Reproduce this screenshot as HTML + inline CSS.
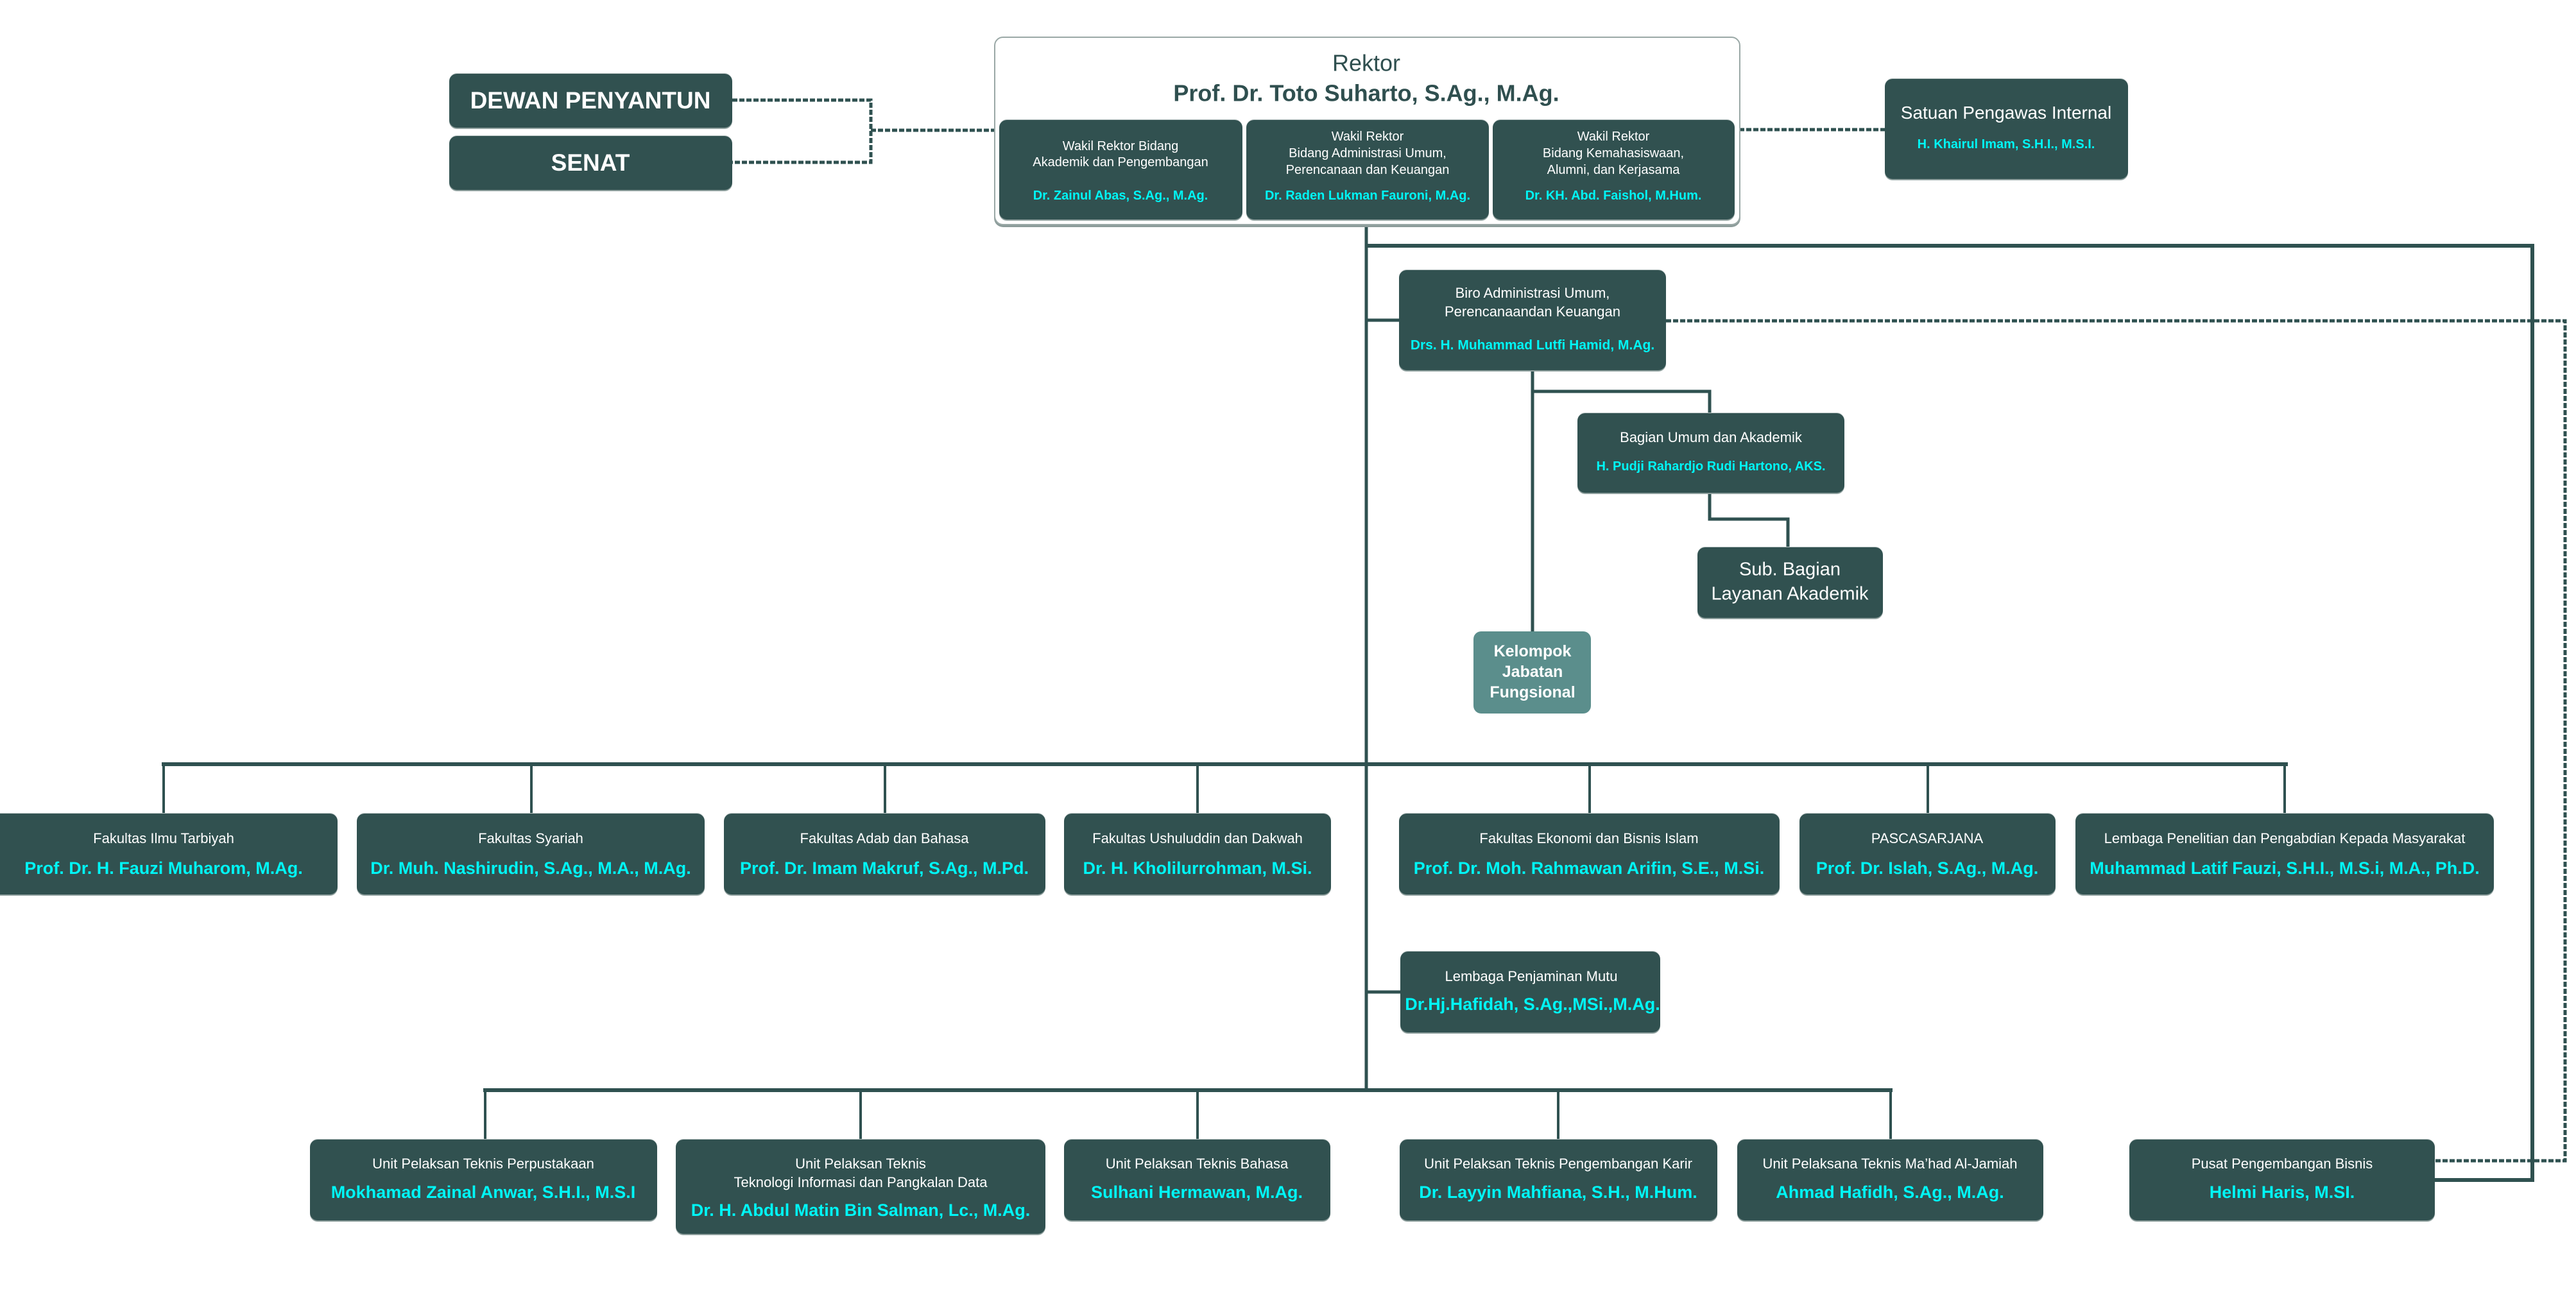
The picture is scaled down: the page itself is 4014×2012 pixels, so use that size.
<!DOCTYPE html>
<html>
<head>
<meta charset="utf-8">
<style>
  html,body{margin:0;padding:0;background:#fff;}
  body{width:4014px;height:2012px;position:relative;overflow:hidden;font-family:"Liberation Sans",Arial,sans-serif;}
  .b{position:absolute;background:#315150;border-radius:12px;box-shadow:0 -1px 0 #b9c4c3,0 2px 0 #8fa09e;}
  .t{position:absolute;white-space:nowrap;transform:translate(-50%,-50%);line-height:1.2;color:#fff;font-size:22px;}
  .n{color:#00f6f6;font-weight:bold;font-size:27px;}
  .s{font-size:20px;}
  .ns{color:#00f6f6;font-weight:bold;font-size:20px;}
  svg{position:absolute;left:0;top:0;}
</style>
</head>
<body>

<!-- Connectors -->
<svg width="4014" height="2012" viewBox="0 0 4014 2012">
  <g stroke="#2f5150" fill="none" stroke-linejoin="miter">
    <!-- main vertical -->
    <line x1="2129" y1="348" x2="2129" y2="1702" stroke-width="5"/>
    <!-- top thick to right -->
    <polyline points="2129,383 3946,383 3946,1839 3794,1839" stroke-width="6"/>
    <!-- biro -->
    <line x1="2129" y1="499" x2="2182" y2="499" stroke-width="5"/>
    <line x1="2388" y1="575" x2="2388" y2="986" stroke-width="5"/>
    <polyline points="2388,610 2664,610 2664,646" stroke-width="5"/>
    <polyline points="2664,766 2664,809 2786,809 2786,855" stroke-width="5"/>
    <!-- faculties -->
    <line x1="252" y1="1191" x2="3565" y2="1191" stroke-width="6"/>
    <g stroke-width="4">
      <line x1="255" y1="1191" x2="255" y2="1270"/>
      <line x1="828" y1="1191" x2="828" y2="1270"/>
      <line x1="1379" y1="1191" x2="1379" y2="1270"/>
      <line x1="1866" y1="1191" x2="1866" y2="1270"/>
      <line x1="2477" y1="1191" x2="2477" y2="1270"/>
      <line x1="3004" y1="1191" x2="3004" y2="1270"/>
      <line x1="3560" y1="1191" x2="3560" y2="1270"/>
    </g>
    <!-- LPM -->
    <line x1="2129" y1="1546" x2="2184" y2="1546" stroke-width="5"/>
    <!-- bottom -->
    <line x1="753" y1="1699" x2="2949" y2="1699" stroke-width="6"/>
    <g stroke-width="4">
      <line x1="756" y1="1699" x2="756" y2="1778"/>
      <line x1="1341" y1="1699" x2="1341" y2="1778"/>
      <line x1="1866" y1="1699" x2="1866" y2="1778"/>
      <line x1="2428" y1="1699" x2="2428" y2="1778"/>
      <line x1="2946" y1="1699" x2="2946" y2="1778"/>
    </g>
    <!-- dashed -->
    <g stroke-width="5" stroke-dasharray="8 3">
      <polyline points="1141,156 1357,156 1357,253 1141,253"/>
      <line x1="1357" y1="203" x2="1549" y2="203"/>
      <line x1="2710" y1="202" x2="2937" y2="202"/>
      <polyline points="2596,500 3997,500 3997,1809 3794,1809"/>
    </g>
  </g>
</svg>

<!-- Rektor outer box -->
<div style="position:absolute;left:1549px;top:57px;width:1159px;height:290px;border:2px solid #9aa8a6;border-radius:14px;background:#fff;box-shadow:0 3px 0 #8c9c9a;"></div>
<div class="t" style="left:2129px;top:98px;color:#2f4f4f;font-size:36px;">Rektor</div>
<div class="t" style="left:2129px;top:145px;color:#2f4f4f;font-size:36px;font-weight:bold;">Prof. Dr. Toto Suharto, S.Ag., M.Ag.</div>

<div class="b" style="left:1557px;top:187px;width:379px;height:155px;"></div>
<div class="b" style="left:1942px;top:187px;width:378px;height:155px;"></div>
<div class="b" style="left:2326px;top:187px;width:377px;height:155px;"></div>

<div class="t s" style="left:1746px;top:228px;">Wakil Rektor Bidang</div>
<div class="t s" style="left:1746px;top:253px;">Akademik dan Pengembangan</div>
<div class="t ns" style="left:1746px;top:305px;">Dr. Zainul Abas, S.Ag., M.Ag.</div>

<div class="t s" style="left:2131px;top:213px;">Wakil Rektor</div>
<div class="t s" style="left:2131px;top:239px;">Bidang Administrasi Umum,</div>
<div class="t s" style="left:2131px;top:265px;">Perencanaan dan Keuangan</div>
<div class="t ns" style="left:2131px;top:305px;">Dr. Raden Lukman Fauroni, M.Ag.</div>

<div class="t s" style="left:2514px;top:213px;">Wakil Rektor</div>
<div class="t s" style="left:2514px;top:239px;">Bidang Kemahasiswaan,</div>
<div class="t s" style="left:2514px;top:265px;">Alumni, dan Kerjasama</div>
<div class="t ns" style="left:2514px;top:305px;">Dr. KH. Abd. Faishol, M.Hum.</div>

<!-- Dewan / Senat -->
<div class="b" style="left:700px;top:115px;width:441px;height:84px;"></div>
<div class="t" style="left:920px;top:157px;font-size:37px;font-weight:bold;">DEWAN PENYANTUN</div>
<div class="b" style="left:700px;top:212px;width:441px;height:84px;"></div>
<div class="t" style="left:920px;top:254px;font-size:37px;font-weight:bold;">SENAT</div>

<!-- SPI -->
<div class="b" style="left:2937px;top:123px;width:379px;height:156px;"></div>
<div class="t" style="left:3126px;top:176px;font-size:28px;">Satuan Pengawas Internal</div>
<div class="t ns" style="left:3126px;top:225px;">H. Khairul Imam, S.H.I., M.S.I.</div>

<!-- Biro -->
<div class="b" style="left:2180px;top:421px;width:416px;height:156px;"></div>
<div class="t" style="left:2388px;top:457px;">Biro Administrasi Umum,</div>
<div class="t" style="left:2388px;top:486px;">Perencanaandan Keuangan</div>
<div class="t ns" style="left:2388px;top:538px;font-size:21px;">Drs. H. Muhammad Lutfi Hamid, M.Ag.</div>

<!-- Bagian -->
<div class="b" style="left:2458px;top:644px;width:416px;height:124px;"></div>
<div class="t" style="left:2666px;top:682px;">Bagian Umum dan Akademik</div>
<div class="t ns" style="left:2666px;top:727px;">H. Pudji Rahardjo Rudi Hartono, AKS.</div>

<!-- Sub Bagian -->
<div class="b" style="left:2645px;top:853px;width:289px;height:110px;"></div>
<div class="t" style="left:2789px;top:888px;font-size:29px;">Sub. Bagian</div>
<div class="t" style="left:2789px;top:926px;font-size:29px;">Layanan Akademik</div>

<!-- Kelompok -->
<div class="b" style="left:2296px;top:984px;width:183px;height:128px;background:#5b8e8c;box-shadow:none;"></div>
<div class="t" style="left:2388px;top:1015px;font-size:25px;font-weight:bold;">Kelompok</div>
<div class="t" style="left:2388px;top:1047px;font-size:25px;font-weight:bold;">Jabatan</div>
<div class="t" style="left:2388px;top:1079px;font-size:25px;font-weight:bold;">Fungsional</div>

<!-- Faculties row -->
<div class="b" style="left:-16px;top:1268px;width:542px;height:126px;"></div>
<div class="t" style="left:255px;top:1307px;">Fakultas Ilmu Tarbiyah</div>
<div class="t n" style="left:255px;top:1353px;">Prof. Dr. H. Fauzi Muharom, M.Ag.</div>

<div class="b" style="left:556px;top:1268px;width:542px;height:126px;"></div>
<div class="t" style="left:827px;top:1307px;">Fakultas Syariah</div>
<div class="t n" style="left:827px;top:1353px;">Dr. Muh. Nashirudin, S.Ag., M.A., M.Ag.</div>

<div class="b" style="left:1128px;top:1268px;width:501px;height:126px;"></div>
<div class="t" style="left:1378px;top:1307px;">Fakultas Adab dan Bahasa</div>
<div class="t n" style="left:1378px;top:1353px;">Prof. Dr. Imam Makruf, S.Ag., M.Pd.</div>

<div class="b" style="left:1658px;top:1268px;width:416px;height:126px;"></div>
<div class="t" style="left:1866px;top:1307px;">Fakultas Ushuluddin dan Dakwah</div>
<div class="t n" style="left:1866px;top:1353px;">Dr. H. Kholilurrohman, M.Si.</div>

<div class="b" style="left:2180px;top:1268px;width:593px;height:126px;"></div>
<div class="t" style="left:2476px;top:1307px;">Fakultas Ekonomi dan Bisnis Islam</div>
<div class="t n" style="left:2476px;top:1353px;">Prof. Dr. Moh. Rahmawan Arifin, S.E., M.Si.</div>

<div class="b" style="left:2804px;top:1268px;width:399px;height:126px;"></div>
<div class="t" style="left:3003px;top:1307px;">PASCASARJANA</div>
<div class="t n" style="left:3003px;top:1353px;">Prof. Dr. Islah, S.Ag., M.Ag.</div>

<div class="b" style="left:3234px;top:1268px;width:652px;height:126px;"></div>
<div class="t" style="left:3560px;top:1307px;">Lembaga Penelitian dan Pengabdian Kepada Masyarakat</div>
<div class="t n" style="left:3560px;top:1353px;">Muhammad Latif Fauzi, S.H.I., M.S.i, M.A., Ph.D.</div>

<!-- LPM -->
<div class="b" style="left:2182px;top:1483px;width:405px;height:126px;"></div>
<div class="t" style="left:2386px;top:1522px;">Lembaga Penjaminan Mutu</div>
<div class="t n" style="left:2388px;top:1565px;">Dr.Hj.Hafidah, S.Ag.,MSi.,M.Ag.</div>

<!-- Bottom row -->
<div class="b" style="left:483px;top:1776px;width:541px;height:126px;"></div>
<div class="t" style="left:753px;top:1814px;">Unit Pelaksan Teknis Perpustakaan</div>
<div class="t n" style="left:753px;top:1858px;">Mokhamad Zainal Anwar, S.H.I., M.S.I</div>

<div class="b" style="left:1053px;top:1776px;width:576px;height:147px;"></div>
<div class="t" style="left:1341px;top:1814px;">Unit Pelaksan Teknis</div>
<div class="t" style="left:1341px;top:1843px;">Teknologi Informasi dan Pangkalan Data</div>
<div class="t n" style="left:1341px;top:1886px;">Dr. H. Abdul Matin Bin Salman, Lc., M.Ag.</div>

<div class="b" style="left:1658px;top:1776px;width:415px;height:126px;"></div>
<div class="t" style="left:1865px;top:1814px;">Unit Pelaksan Teknis Bahasa</div>
<div class="t n" style="left:1865px;top:1858px;">Sulhani Hermawan, M.Ag.</div>

<div class="b" style="left:2181px;top:1776px;width:495px;height:126px;"></div>
<div class="t" style="left:2428px;top:1814px;">Unit Pelaksan Teknis Pengembangan Karir</div>
<div class="t n" style="left:2428px;top:1858px;">Dr. Layyin Mahfiana, S.H., M.Hum.</div>

<div class="b" style="left:2707px;top:1776px;width:477px;height:126px;"></div>
<div class="t" style="left:2945px;top:1814px;">Unit Pelaksana Teknis Ma’had Al-Jamiah</div>
<div class="t n" style="left:2945px;top:1858px;">Ahmad Hafidh, S.Ag., M.Ag.</div>

<div class="b" style="left:3318px;top:1776px;width:476px;height:126px;"></div>
<div class="t" style="left:3556px;top:1814px;">Pusat Pengembangan Bisnis</div>
<div class="t n" style="left:3556px;top:1858px;">Helmi Haris, M.SI.</div>

</body>
</html>
